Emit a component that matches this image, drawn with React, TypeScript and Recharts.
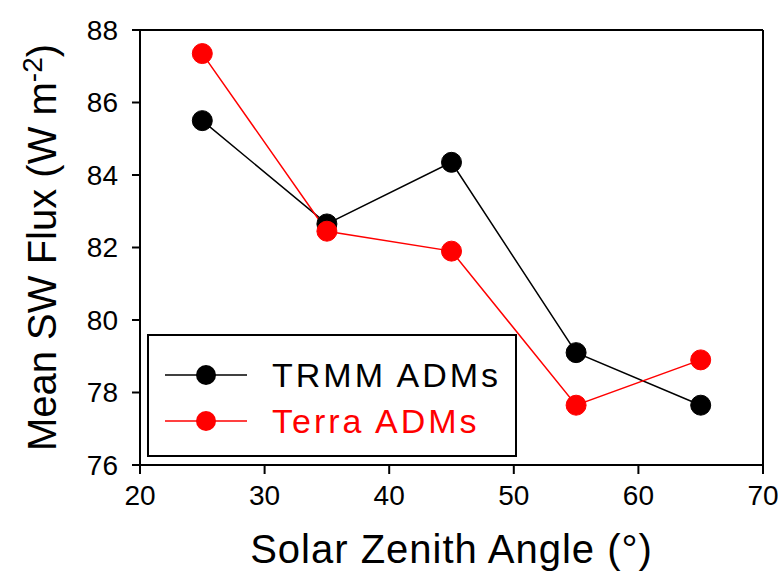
import { LineChart, Line, XAxis, YAxis, ReferenceLine, Legend } from 'recharts';

const ANGLES = [25, 35, 45, 55, 65];
const TRMM = [85.5, 82.65, 84.35, 79.1, 77.65];
const TERRA = [87.35, 82.45, 81.9, 77.65, 78.9];
const X_TICKS = [20, 30, 40, 50, 60, 70];
const Y_TICKS = [76, 78, 80, 82, 84, 86, 88];

const SERIES = [
  { key: 'trmm', name: 'TRMM ADMs', color: '#000000' },
  { key: 'terra', name: 'Terra ADMs', color: '#ff0000' },
];

const data = ANGLES.map((a, i) => ({ angle: a, trmm: TRMM[i], terra: TERRA[i] }));

const FONT = '"Liberation Sans", Arial, sans-serif';

const LegendBox = () => (
  <div style={{ width: 366, height: 119, border: '2px solid #000', background: '#fff', position: 'relative' }}>
    {SERIES.map((s, i) => (
      <div key={s.key} style={{ position: 'absolute', left: 0, top: 20 + i * 46, height: 38, width: 366 }}>
        <svg width={100} height={38} style={{ position: 'absolute', left: 16, top: 0 }}>
          <line x1={0} y1={19} x2={82} y2={19} stroke={s.color} strokeWidth={1.5} />
          <circle cx={41} cy={19} r={10} fill={s.color} />
        </svg>
        <span style={{ position: 'absolute', left: 123, top: 0, lineHeight: '38px', fontFamily: FONT, fontSize: 34, letterSpacing: 3, color: s.color }}>
          {s.name}
        </span>
      </div>
    ))}
  </div>
);

const YLabel = (props: any) => {
  const vb = props.viewBox || {};
  const cx = 56;
  const cy = vb.y + vb.height / 2;
  return (
    <text x={cx} y={cy} transform={`rotate(-90 ${cx} ${cy})`} textAnchor="middle" fontFamily={FONT} fontSize={40} fill="#000">
      Mean SW Flux (W m<tspan dy={-14} fontSize={28}>-2</tspan><tspan dy={14}>)</tspan>
    </text>
  );
};

export default function App() {
  return (
    <div style={{ position: 'absolute', left: 0, top: 0, width: 778, height: 572, background: '#fff' }}>
      <LineChart width={778} height={572} data={data} margin={{ top: 30, right: 15, bottom: 0, left: 0 }}>
        <XAxis
          dataKey="angle"
          type="number"
          domain={[20, 70]}
          ticks={X_TICKS}
          interval={0}
          height={107}
          stroke="#000"
          strokeWidth={2}
          tickSize={9}
          tickMargin={11}
          tick={{ fill: '#000', fontSize: 28, fontFamily: FONT }}
          label={{ value: 'Solar Zenith Angle (°)', position: 'insideBottom', offset: 9, fill: '#000', fontSize: 40, fontFamily: FONT, letterSpacing: 1 }}
        />
        <YAxis
          type="number"
          domain={[76, 88]}
          ticks={Y_TICKS}
          interval={0}
          width={140}
          stroke="#000"
          strokeWidth={2}
          tickSize={8}
          tickMargin={14}
          tick={{ fill: '#000', fontSize: 28, fontFamily: FONT }}
          label={<YLabel />}
        />
        <ReferenceLine y={88} stroke="#000" strokeWidth={2} />
        <ReferenceLine x={70} stroke="#000" strokeWidth={2} />
        <Legend
          layout="horizontal"
          align="center"
          verticalAlign="middle"
          content={() => <LegendBox />}
          wrapperStyle={{ position: 'absolute', left: 147, top: 334, width: 370, height: 123 }}
        />
        {SERIES.map((s) => (
          <Line
            key={s.key}
            dataKey={s.key}
            name={s.name}
            stroke={s.color}
            strokeWidth={1.5}
            dot={{ r: 10, fill: s.color, stroke: s.color, strokeWidth: 1 }}
            isAnimationActive={false}
          />
        ))}
      </LineChart>
    </div>
  );
}
